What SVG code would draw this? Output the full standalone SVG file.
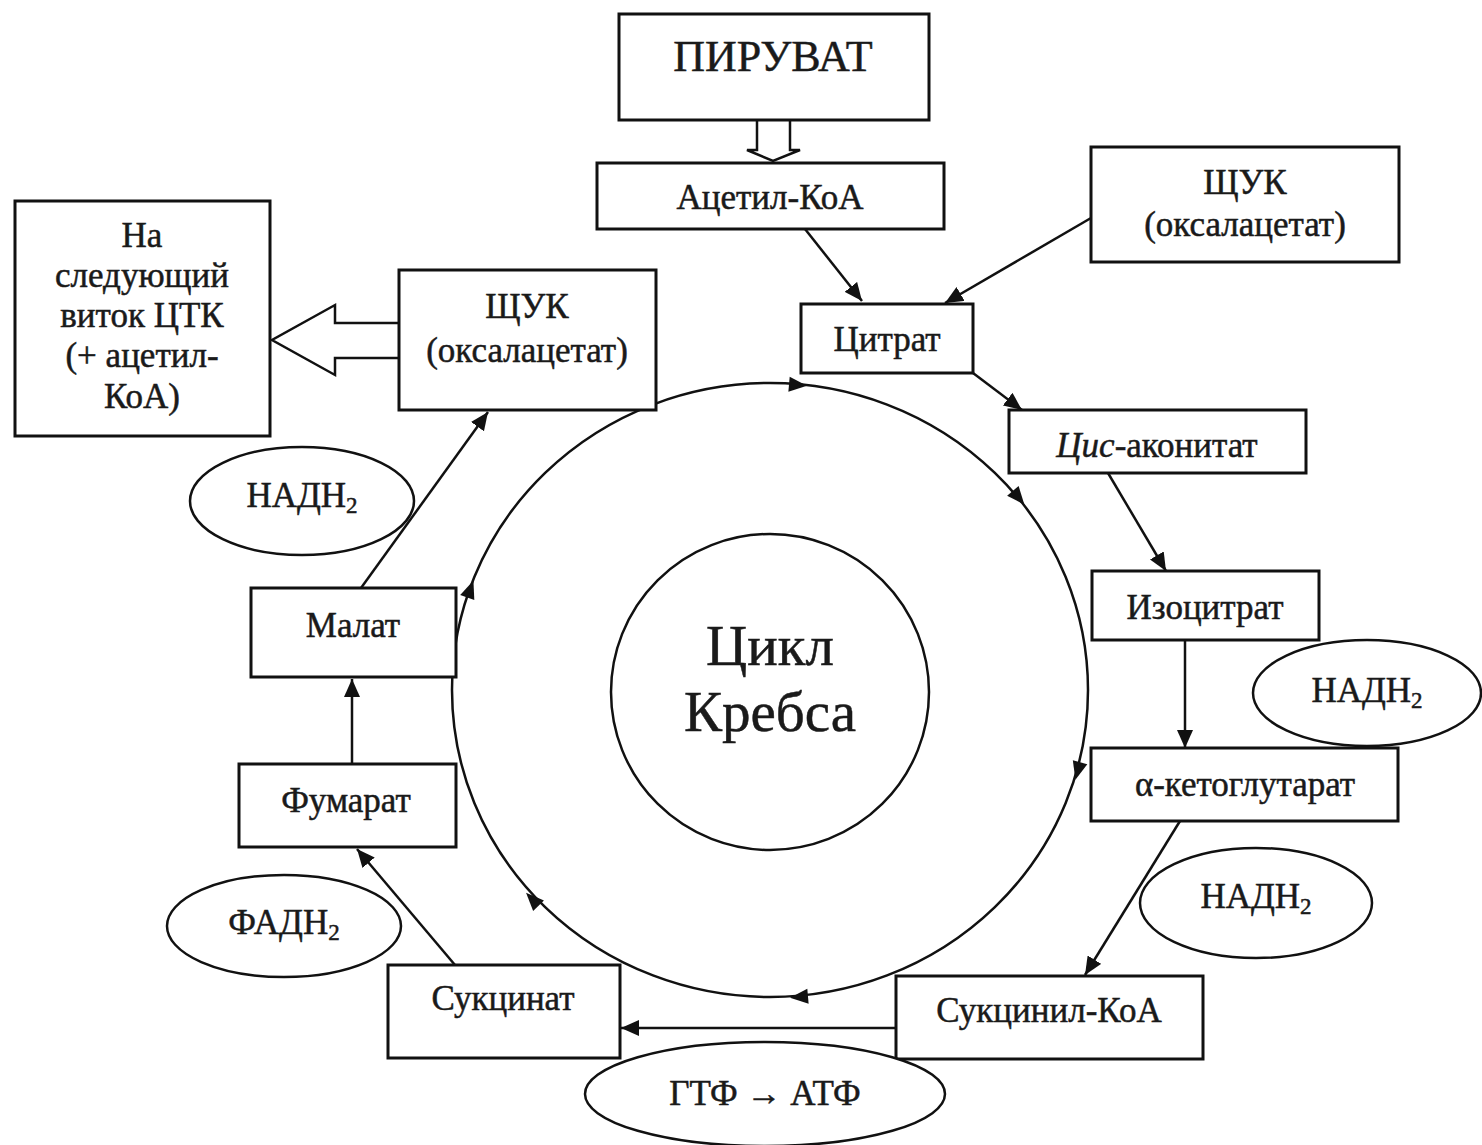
<svg xmlns="http://www.w3.org/2000/svg" width="1482" height="1145" viewBox="0 0 1482 1145">
<style>
.box{fill:#fff;stroke:#111;stroke-width:3}
.ell{fill:#fff;stroke:#111;stroke-width:2.5}
.t{font-family:"Liberation Serif","Times New Roman",serif;fill:#1a1a1a;stroke:#1a1a1a;stroke-width:0.5;text-anchor:middle;font-size:35px}
.ln{fill:none;stroke:#111;stroke-width:2.5}
.hol{fill:#fff;stroke:#111;stroke-width:2.5;stroke-linejoin:miter}
</style>
<defs>
<marker id="ah" markerUnits="userSpaceOnUse" markerWidth="20" markerHeight="16" refX="18" refY="8" orient="auto">
<path d="M0,0 L18,8 L0,16 Z" fill="#111"/>
</marker>
<path id="tri" d="M10,0 L-8,-7.5 L-8,7.5 Z" fill="#111"/>
</defs>
<rect width="1482" height="1145" fill="#fff"/>

<g id="cycle">
<ellipse cx="770" cy="690" rx="318" ry="307" class="ln"/>
<use href="#tri" transform="translate(797,385) rotate(5)"/>
<use href="#tri" transform="translate(1018,497) rotate(50)"/>
<use href="#tri" transform="translate(1078,770) rotate(105)"/>
<use href="#tri" transform="translate(800,997) rotate(175)"/>
<use href="#tri" transform="translate(533,900) rotate(226)"/>
<use href="#tri" transform="translate(470,590) rotate(-70)"/>
</g>

<g id="center">
<ellipse cx="770" cy="692" rx="159" ry="158" class="ln"/>
<text class="t" x="770" y="665" style="font-size:57px">Цикл</text>
<text class="t" x="770" y="731" style="font-size:57px">Кребса</text>
</g>

<g id="connectors">
<path class="hol" d="M757,120 L757,150 L747,150 L773,161 L800,150 L790,150 L790,120"/>
<line class="ln" x1="805" y1="229" x2="862" y2="301" marker-end="url(#ah)"/>
<line class="ln" x1="1091" y1="218" x2="945" y2="303" marker-end="url(#ah)"/>
<line class="ln" x1="973" y1="373" x2="1022" y2="410" marker-end="url(#ah)"/>
<line class="ln" x1="1108" y1="473" x2="1166" y2="571" marker-end="url(#ah)"/>
<line class="ln" x1="1185" y1="640" x2="1185" y2="748" marker-end="url(#ah)"/>
<line class="ln" x1="1180" y1="821" x2="1085" y2="975" marker-end="url(#ah)"/>
<line class="ln" x1="896" y1="1028" x2="621" y2="1028" marker-end="url(#ah)"/>
<line class="ln" x1="455" y1="965" x2="357" y2="849" marker-end="url(#ah)"/>
<line class="ln" x1="352" y1="764" x2="352" y2="679" marker-end="url(#ah)"/>
<line class="ln" x1="361" y1="588" x2="488" y2="412" marker-end="url(#ah)"/>
<path class="hol" d="M399,323 L335,323 L335,305 L272,340 L335,375 L335,358 L399,358"/>
</g>

<g id="piruvat"><rect class="box" x="619" y="14" width="310" height="106"/><text class="t" x="773" y="71" style="font-size:44px">ПИРУВАТ</text></g>
<g id="acetylcoa"><rect class="box" x="597" y="163" width="347" height="66"/><text class="t" x="770" y="209">Ацетил-КоА</text></g>
<g id="oxaloacetate-in"><rect class="box" x="1091" y="147" width="308" height="115"/><text class="t" x="1245" y="194">ЩУК</text><text class="t" x="1245" y="236">(оксалацетат)</text></g>
<g id="citrate"><rect class="box" x="801" y="304" width="172" height="69"/><text class="t" x="887" y="351">Цитрат</text></g>
<g id="cisaconitate"><rect class="box" x="1009" y="410" width="297" height="63"/><text class="t" x="1157" y="457"><tspan font-style="italic">Цис</tspan>-аконитат</text></g>
<g id="isocitrate"><rect class="box" x="1092" y="571" width="227" height="69"/><text class="t" x="1205" y="619">Изоцитрат</text></g>
<g id="nadh1"><ellipse class="ell" cx="1367" cy="693" rx="114" ry="53"/><text class="t" x="1367" y="702">НАДН<tspan font-size="23" dy="6">2</tspan></text></g>
<g id="akg"><rect class="box" x="1091" y="748" width="307" height="73"/><text class="t" x="1245" y="796">α-кетоглутарат</text></g>
<g id="nadh2"><ellipse class="ell" cx="1256" cy="903" rx="116" ry="55"/><text class="t" x="1256" y="908">НАДН<tspan font-size="23" dy="6">2</tspan></text></g>
<g id="succinylcoa"><rect class="box" x="896" y="976" width="307" height="83"/><text class="t" x="1049" y="1022">Сукцинил-КоА</text></g>
<g id="gtp"><ellipse class="ell" cx="765" cy="1094" rx="180" ry="52"/><text class="t" x="765" y="1105">ГТФ → АТФ</text></g>
<g id="succinate"><rect class="box" x="388" y="965" width="232" height="93"/><text class="t" x="503" y="1010">Сукцинат</text></g>
<g id="fadh"><ellipse class="ell" cx="284" cy="926" rx="117" ry="51"/><text class="t" x="284" y="934">ФАДН<tspan font-size="23" dy="6">2</tspan></text></g>
<g id="fumarate"><rect class="box" x="239" y="764" width="217" height="83"/><text class="t" x="346" y="812">Фумарат</text></g>
<g id="malate"><rect class="box" x="251" y="588" width="205" height="89"/><text class="t" x="353" y="637">Малат</text></g>
<g id="nadh3"><ellipse class="ell" cx="302" cy="501" rx="112" ry="54"/><text class="t" x="302" y="507">НАДН<tspan font-size="23" dy="6">2</tspan></text></g>
<g id="oxaloacetate-out"><rect class="box" x="399" y="270" width="257" height="140"/><text class="t" x="527" y="318">ЩУК</text><text class="t" x="527" y="362">(оксалацетат)</text></g>
<g id="next-turn"><rect class="box" x="15" y="201" width="255" height="235"/>
<text class="t" x="142" y="247">На</text>
<text class="t" x="142" y="287">следующий</text>
<text class="t" x="142" y="327">виток ЦТК</text>
<text class="t" x="142" y="367">(+ ацетил-</text>
<text class="t" x="142" y="408">КоА)</text>
</g>
</svg>
